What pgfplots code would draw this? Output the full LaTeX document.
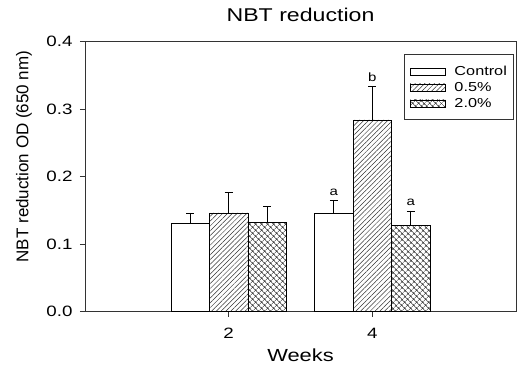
\documentclass[border=0pt]{standalone}
\usepackage{pgfplots}
\pgfplotsset{compat=1.18}
\usetikzlibrary{patterns.meta}
\usepackage{fontspec}
\setmainfont[FakeStretch=1.25]{Liberation Sans}
\newfontfamily\ylfont{Liberation Sans}
\pgfplotsset{myleg/.style={legend image code/.code={\draw[##1, line width=0.6pt] (0pt,-3.5pt) rectangle (35pt,3.5pt);}}}
\begin{document}
\begin{tikzpicture}
\begin{axis}[
 scale only axis, width=431pt, height=270pt,
 xmin=0, xmax=6, ymin=0, ymax=0.4,
 xtick={2,4}, ytick={0,0.1,0.2,0.3,0.4},
 xtick pos=lower, ytick pos=left,
 tick align=outside, major tick length=5pt,
 /pgf/number format/assume math mode=true,
 yticklabel style={/pgf/number format/.cd, fixed, fixed zerofill, precision=1, /tikz/.cd, font=\fontsize{15}{15}\selectfont, xshift=-4pt},
 xticklabel style={font=\fontsize{15}{15}\selectfont, anchor=base, yshift=-22pt},
 axis line style={line width=0.8pt, black!80},
 tick style={line width=0.8pt, black!80},
 xlabel={Weeks},
 xlabel style={at={(axis description cs:0.5,-0.186)}, anchor=base, font=\fontsize{17.5}{17.5}\selectfont},
 ylabel={NBT reduction OD (650 nm)},
 ylabel style={at={(axis description cs:-0.1415,0.574)}, anchor=center, font=\ylfont\fontsize{17}{17}\selectfont},
 title={NBT reduction},
 title style={at={(axis description cs:0.5,1)}, anchor=base, yshift=14pt, font=\fontsize{18.5}{18.5}\selectfont},
 ybar=0pt, bar width=38.5pt,
 legend style={draw=black!80, line width=0.8pt, at={(rel axis cs:0.996,0.952)}, anchor=north east,
   font=\fontsize{13}{13}\selectfont, inner xsep=5pt, inner ysep=8.5pt, row sep=0pt,
   cells={anchor=west}, nodes={inner xsep=2pt, inner ysep=0pt, text height=12pt, text depth=4pt},
   /tikz/every odd column/.append style={column sep=7pt}},
]
\addplot[draw=black, line width=0.6pt, fill=white, myleg,
  error bars/.cd, y dir=plus, y explicit,
  error mark options={rotate=90, mark size=4pt, line width=0.8pt, black},
  error bar style={line width=0.8pt, black}]
  coordinates {(2,0.131) +- (0,0.015) (4,0.145) +- (0,0.020)};
\addlegendentry{Control}
\addplot[draw=black, line width=0.6pt, pattern={Lines[angle=45, distance=3.4pt, line width=0.5pt]}, pattern color=black!80, myleg,
  error bars/.cd, y dir=plus, y explicit,
  error mark options={rotate=90, mark size=4pt, line width=0.8pt, black},
  error bar style={line width=0.8pt, black}]
  coordinates {(2,0.146) +- (0,0.031) (4,0.284) +- (0,0.050)};
\addlegendentry{0.5\%}
\addplot[draw=black, line width=0.6pt, pattern={Hatch[angle=45, distance=4pt, line width=0.5pt]}, pattern color=black!80, myleg,
  error bars/.cd, y dir=plus, y explicit,
  error mark options={rotate=90, mark size=4pt, line width=0.8pt, black},
  error bar style={line width=0.8pt, black}]
  coordinates {(2,0.132) +- (0,0.024) (4,0.127) +- (0,0.022)};
\addlegendentry{2.0\%}
\node[font=\fontsize{12}{12}\selectfont] at (axis cs:3.463,0.176) {a};
\node[font=\fontsize{12}{12}\selectfont] at (axis cs:4,0.347) {b};
\node[font=\fontsize{12}{12}\selectfont] at (axis cs:4.537,0.161) {a};
\end{axis}
\pgfresetboundingbox
\path ([shift={(-85pt,-52.5pt)}]current axis.south west) rectangle ++(521pt,364pt);
\end{tikzpicture}
\end{document}
